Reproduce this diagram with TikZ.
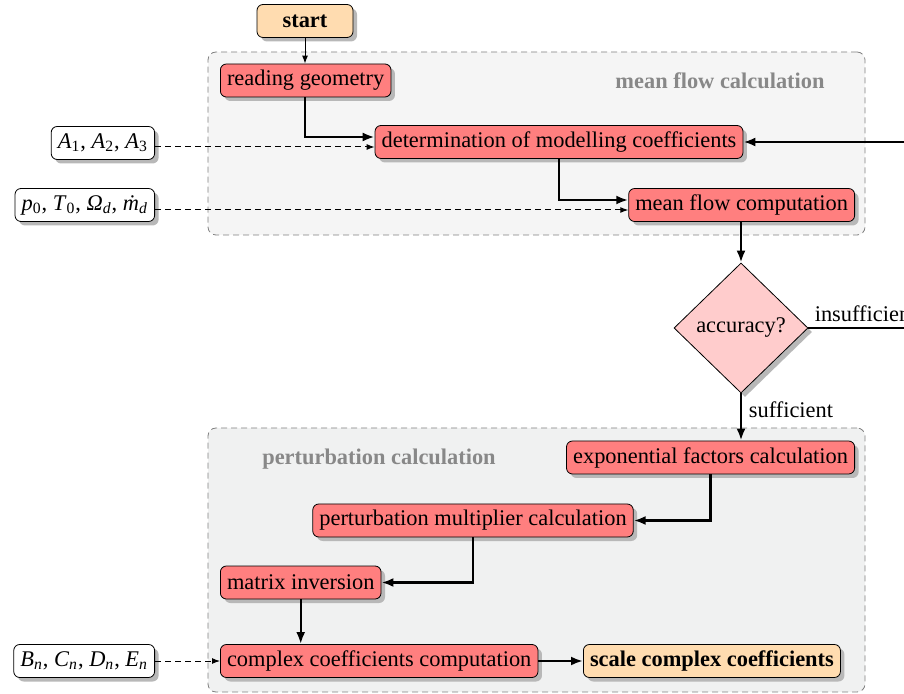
\documentclass[tikz,border=0pt]{standalone}
\usepackage{fontspec}
\setmainfont{Liberation Serif}
\usetikzlibrary{shapes.geometric,shadows,arrows.meta}
\definecolor{procred}{HTML}{FF7F7F}
\definecolor{peach}{HTML}{FFDCB0}
\definecolor{diapink}{HTML}{FFCCCC}
\definecolor{grpA}{HTML}{F5F5F5}
\definecolor{grpB}{HTML}{F0F1F1}
\definecolor{grplabel}{HTML}{888888}
\newcommand\basefont{\fontsize{11.2}{13}\selectfont}
\newcommand\vs[2]{\textit{#1}\textsubscript{#2}}
\tikzset{
  shad/.style={drop shadow={shadow xshift=2pt,shadow yshift=-2pt,fill=black!28,opacity=1}},
  procbox/.style={draw, rounded corners=3pt, fill=procred, minimum height=16.5pt, inner xsep=3.3pt, inner ysep=0pt, shad},
  termbox/.style={procbox, fill=peach, font=\basefont\bfseries},
  parambox/.style={procbox, fill=white},
  decbox/.style={draw, diamond, aspect=1, fill=diapink, minimum width=67pt, minimum height=65pt, inner sep=0pt, shad},
  grpbox/.style={draw=black!50, dash pattern=on 3pt off 2pt, rounded corners=4pt, line width=0.4pt},
  grptitle/.style={font=\basefont\bfseries, text=grplabel},
  flow/.style={line width=1.2pt, -{Latex[length=6pt,width=4.5pt]}},
  thinflow/.style={line width=0.5pt, -{Latex[length=4pt,width=3pt]}},
  inflow/.style={line width=0.5pt, dash pattern=on 3pt off 2pt, -{Latex[length=4pt,width=3pt]}},
}
\begin{document}
\begin{tikzpicture}[x=0.5pt,y=-0.5pt, font=\basefont]
\useasboundingbox (0,0) rectangle (904,694);
% groups
\node[grpbox, fill=grpA, minimum width=328.5pt, minimum height=91.5pt, inner sep=0pt] (gmean) at (536.5,143.5) {};
\node[grpbox, fill=grpB, minimum width=328.5pt, minimum height=132pt, inner sep=0pt] (gpert) at (536.5,560) {};
\node[grptitle] (tmean) at (720,81) {mean flow calculation};
\node[grptitle] (tpert) at (379,459) {perturbation calculation};
% nodes
\node[termbox, minimum width=48pt] (start) at (305,21) {start};
\node[procbox, anchor=west] (rg) at (220,80.5) {reading geometry};
\node[procbox] (det) at (559,142) {determination of modelling coefficients};
\node[procbox, anchor=east] (mfc) at (855,205) {mean flow computation};
\node[parambox, anchor=east] (pa) at (155,143) {\vs{A}{1}, \vs{A}{2}, \vs{A}{3}};
\node[parambox, anchor=east] (pp) at (155,205) {\vs{p}{0}, \vs{T}{0}, \vs{Ω}{\textit{d}}, \vs{\.{m}}{\textit{d}}};
\node[decbox] (acc) at (741,328) {accuracy?};
\node[procbox, anchor=east] (exf) at (855,457.5) {exponential factors calculation};
\node[procbox] (pmc) at (473,520.5) {perturbation multiplier calculation};
\node[procbox, anchor=west] (mi) at (220,582.5) {matrix inversion};
\node[procbox, anchor=west] (ccc) at (220,661) {complex coefficients computation};
\node[termbox, anchor=west] (scc) at (583,661) {scale complex coefficients};
\node[parambox, anchor=east] (pb) at (155,661) {\vs{B}{\textit{n}}, \vs{C}{\textit{n}}, \vs{D}{\textit{n}}, \vs{E}{\textit{n}}};
\coordinate (loop) at (940,142);
\coordinate (detin) at ([yshift=-2.5pt]det.west);
\coordinate (mfcin) at ([yshift=-2.5pt]mfc.west);
% connectors
\draw[thinflow] (start) -- (rg.north -| start.south);
\draw[flow] (rg.south -| start.south) |- ([yshift=2.5pt]det.west);
\draw[inflow] (pa.east |- detin) -- (detin);
\draw[flow] (det.south) |- ([yshift=2.5pt]mfc.west);
\draw[inflow] (pp.east |- mfcin) -- (mfcin);
\draw[flow] (mfc.south -| acc.north) -- (acc.north);
\draw[line width=1.2pt] (acc.east) -| (loop);
\draw[flow] (loop) -- (det.east);
\node[anchor=base west, inner sep=0pt] (insuf) at ([xshift=3pt,yshift=3pt]acc.east) {insufficient};
\draw[flow] (acc.south) -- node[right, pos=0.35] (suf) {sufficient} (exf.north -| acc.south);
\draw[flow] (exf.south) |- (pmc.east);
\draw[flow] (pmc.south) |- (mi.east);
\draw[flow] (mi.south) -- (ccc.north -| mi.south);
\draw[inflow] (pb.east) -- (ccc.west);
\draw[flow] (ccc) -- (scc);
\end{tikzpicture}
\end{document}
